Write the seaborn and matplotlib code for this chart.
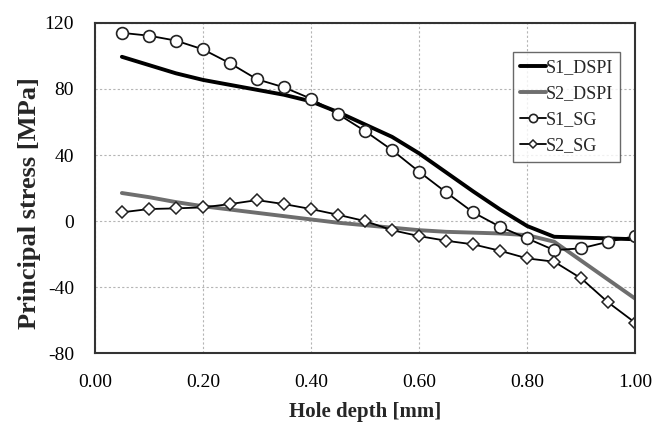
import matplotlib
matplotlib.use("Agg")
import matplotlib.pyplot as plt
import seaborn as sns
import pandas as pd

# Data
depth = [0.05, 0.10, 0.15, 0.20, 0.25, 0.30, 0.35, 0.40, 0.45, 0.50,
         0.55, 0.60, 0.65, 0.70, 0.75, 0.80, 0.85, 0.90, 0.95, 1.00]

s1_dspi = [99.5, 94.5, 89.5, 85.5, 82.5, 79.5, 76.5, 72.5, 66.0, 58.5,
           51.0, 41.0, 29.5, 18.0, 7.0, -3.0, -9.5, -10.0, -10.5, -11.0]
s2_dspi = [17.0, 14.5, 11.5, 9.0, 7.0, 5.0, 3.0, 1.0, -1.0, -2.5,
           -4.0, -5.5, -6.5, -7.0, -7.5, -8.5, -12.5, -24.0, -35.5, -47.0]
s1_sg = [114.0, 112.3, 109.3, 104.0, 95.6, 85.9, 81.0, 74.1, 64.8, 54.5,
         43.0, 29.9, 17.4, 5.3, -3.5, -10.5, -17.6, -16.5, -12.5, -9.1]
s2_sg = [5.3, 7.3, 7.7, 8.3, 10.3, 12.7, 10.3, 7.3, 3.8, 0.0,
         -5.5, -9.1, -11.9, -14.1, -18.0, -22.6, -24.6, -34.7, -49.3, -61.6]

df = pd.DataFrame({"depth": depth, "S1_DSPI": s1_dspi, "S2_DSPI": s2_dspi,
                   "S1_SG": s1_sg, "S2_SG": s2_sg})

sns.set_style("white")
plt.rcParams["font.family"] = ["Liberation Serif", "DejaVu Serif"]
plt.rcParams["axes.unicode_minus"] = False

fig = plt.figure(figsize=(6.68, 4.25), dpi=100)
ax = fig.add_axes([0.142, 0.169, 0.809, 0.777])

sns.lineplot(data=df, x="depth", y="S1_DSPI", ax=ax, color="black", lw=2.8,
             label="S1_DSPI")
sns.lineplot(data=df, x="depth", y="S2_DSPI", ax=ax, color="#6e6e6e", lw=2.8,
             label="S2_DSPI")
sns.lineplot(data=df, x="depth", y="S1_SG", ax=ax, color="black", lw=1.3,
             marker="o", markersize=8.5, markerfacecolor="white",
             markeredgecolor="#222222", markeredgewidth=1.2, label="S1_SG")
sns.lineplot(data=df, x="depth", y="S2_SG", ax=ax, color="black", lw=1.3,
             marker="D", markersize=6, markerfacecolor="white",
             markeredgecolor="#222222", markeredgewidth=1.1, label="S2_SG")

ax.set_xlim(0, 1.0)
ax.set_ylim(-80, 120)
ax.set_xticks([0.0, 0.2, 0.4, 0.6, 0.8, 1.0])
ax.set_xticklabels(["0.00", "0.20", "0.40", "0.60", "0.80", "1.00"])
ax.set_yticks([-80, -40, 0, 40, 80, 120])
ax.tick_params(axis="both", labelsize=14, direction="out", length=5,
               width=0.8, colors="#666666", labelcolor="black")
ax.tick_params(axis="x", pad=10)
ax.tick_params(axis="y", pad=10)

ax.grid(True, linestyle=(0, (2, 2)), color="#b5b5b5", lw=0.8)
for sp in ax.spines.values():
    sp.set_color("#333333")
    sp.set_linewidth(1.5)

ax.set_xlabel("Hole depth [mm]", fontsize=15, fontweight="bold")
ax.set_ylabel("Principal stress [MPa]", fontsize=19, fontweight="bold")
ax.xaxis.set_label_coords(0.5, -0.148)
ax.yaxis.set_label_coords(-0.1, 0.455)

leg = ax.legend(loc="upper right", bbox_to_anchor=(0.972, 0.912),
                fontsize=13, frameon=True, fancybox=False, handlelength=1.4,
                handletextpad=0.0, borderpad=0.4, labelspacing=0.5,
                borderaxespad=0, markerscale=0.7)
leg.get_frame().set_edgecolor("#444444")
leg.get_frame().set_linewidth(1.0)

fig.savefig("out.png", dpi=100)
